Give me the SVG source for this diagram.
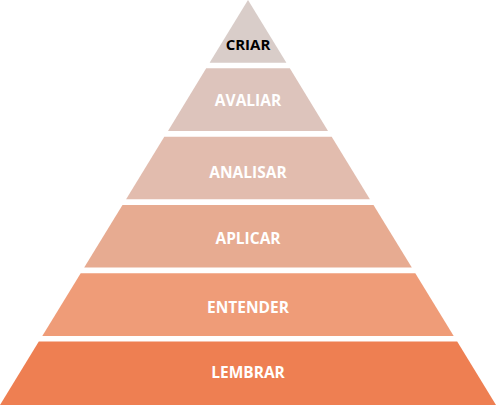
<svg xmlns="http://www.w3.org/2000/svg" width="496" height="405" viewBox="0 0 496 405">
<style>
text{font-family:"Open Sans","Liberation Sans",sans-serif;font-weight:700;font-size:15.5px;text-anchor:middle;fill:#ffffff}
#criar text{fill:#000000;font-size:15px}
</style>
<rect width="496" height="405" fill="#ffffff"/>
<g id="criar"><polygon points="248,0 286.4,62.7 209.6,62.7" fill="#D9CDC9"/><text x="248" y="50">CRIAR</text></g>
<g id="avaliar"><polygon points="206.2,68.3 289.8,68.3 328,131 168,131" fill="#DDC4BC"/><text x="248" y="106">AVALIAR</text></g>
<g id="analisar"><polygon points="164.3,136.7 331.7,136.7 369.9,199.3 126.1,199.3" fill="#E2BCAE"/><text x="248" y="178">ANALISAR</text></g>
<g id="aplicar"><polygon points="122.5,205 373.5,205 411.8,267.5 84.2,267.5" fill="#E7AB91"/><text x="248" y="244">APLICAR</text></g>
<g id="entender"><polygon points="80.7,273.3 415.3,273.3 453.7,336 42.3,336" fill="#EF9C78"/><text x="248" y="313">ENTENDER</text></g>
<g id="lembrar"><polygon points="38.8,341.5 457.2,341.5 496,405 0,405" fill="#EE7F52"/><text x="248" y="378">LEMBRAR</text></g>
</svg>
